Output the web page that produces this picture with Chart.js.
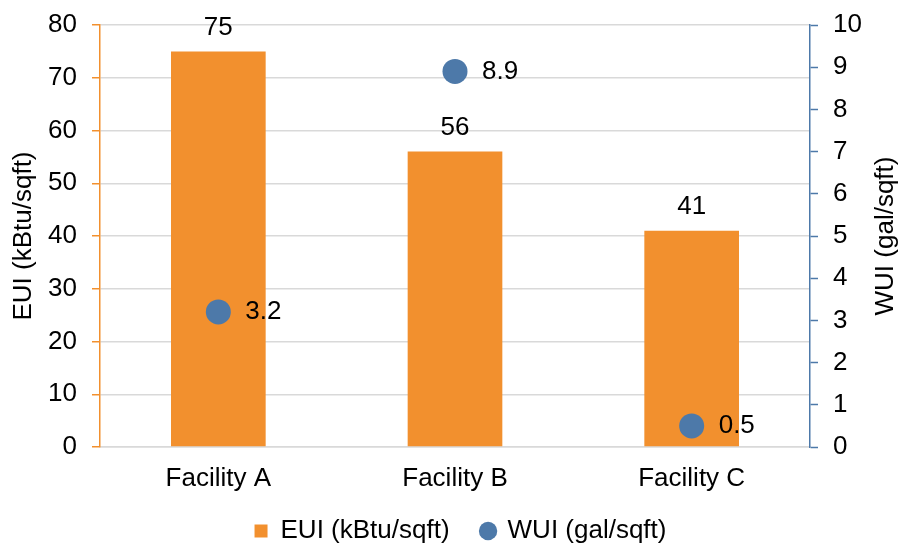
<!DOCTYPE html>
<html>
<head>
<meta charset="utf-8">
<script src="https://cdn.jsdelivr.net/npm/chart.js@4.4.1/dist/chart.umd.min.js"></script>
<style>
  html, body { margin: 0; padding: 0; background: #fff; }
  #wrap { width: 901px; height: 549px; }
</style>
</head>
<body>
<div id="wrap"><canvas id="chart"></canvas></div>
<script>
const facilities = ["Facility A", "Facility B", "Facility C"];
const euiValues = [75, 56, 41];      // kBtu/sqft
const wuiValues = [3.2, 8.9, 0.5];   // gal/sqft

const FONT = "'Liberation Sans', Arial, sans-serif";
const ORANGE = "#F2902E";
const BLUE = "#4D79A9";

// value labels over bars / beside points, plus the right axis title
// (drawn by hand so it reads bottom-to-top like the left one)
const valueLabels = {
  id: "valueLabels",
  afterLayout(chart) {
    // nudge the legend row a little right and up
    const lg = chart.legend;
    lg.left += 10; lg.right += 10;
    lg.top -= 17;
  },
  afterDatasetsDraw(chart) {
    const ctx = chart.ctx;
    ctx.save();
    ctx.font = "26px " + FONT;
    ctx.fillStyle = "#000";
    ctx.textBaseline = "middle";

    ctx.textAlign = "center";
    chart.getDatasetMeta(0).data.forEach((bar, i) => {
      ctx.fillText(String(euiValues[i]), bar.x, bar.y - 24);
    });

    ctx.textAlign = "left";
    chart.getDatasetMeta(1).data.forEach((pt, i) => {
      ctx.fillText(String(wuiValues[i]), pt.x + 27, pt.y);
    });

    const area = chart.chartArea;
    const rx = chart.scales.y1.right - 15;
    ctx.translate(rx, (area.top + area.bottom) / 2);
    ctx.rotate(-Math.PI / 2);
    ctx.textAlign = "center";
    ctx.fillText("WUI (gal/sqft)", 0, 0);
    ctx.restore();
  }
};

Chart.defaults.font.family = FONT;
Chart.defaults.font.size = 26;
Chart.defaults.color = "#000";

const noPad = s => { s.paddingTop = 0; s.paddingBottom = 0; };

const ctx = document.getElementById("chart").getContext("2d");
new Chart(ctx, {
  type: "bar",
  data: {
    labels: facilities,
    datasets: [
      {
        type: "bar",
        label: "EUI (kBtu/sqft)",
        data: euiValues,
        backgroundColor: ORANGE,
        yAxisID: "y",
        order: 1,
        pointStyle: "rect",
        categoryPercentage: 1,
        barPercentage: 0.4
      },
      {
        type: "line",
        label: "WUI (gal/sqft)",
        data: wuiValues,
        yAxisID: "y1",
        showLine: false,
        order: 0,
        pointStyle: "circle",
        pointRadius: 12.5,
        pointHoverRadius: 12.5,
        pointBackgroundColor: BLUE,
        pointBorderWidth: 0,
        backgroundColor: BLUE,
        borderColor: BLUE
      }
    ]
  },
  options: {
    responsive: true,
    maintainAspectRatio: false,
    animation: false,
    layout: { padding: { top: 25, left: 0, right: 0, bottom: 0 } },
    plugins: {
      tooltip: { enabled: false },
      legend: {
        position: "bottom",
        maxHeight: 46,
        labels: {
          usePointStyle: true,
          boxWidth: 13,
          boxHeight: 13,
          padding: 32,
          color: "#000",
          font: { size: 26 },
          sort: (a, b) => a.datasetIndex - b.datasetIndex
        }
      }
    },
    scales: {
      x: {
        afterFit: s => { s.height = 56; s.paddingLeft = 0; s.paddingRight = 0; },
        grid: { display: true, drawOnChartArea: false, drawTicks: false },
        border: { display: true, color: "#D9D9D9", width: 1.5 },
        ticks: { padding: 16, font: { size: 26 } }
      },
      y: {
        position: "left",
        min: 0,
        max: 80,
        afterFit: s => { s.width = 100; noPad(s); },
        ticks: { stepSize: 10, padding: 15, font: { size: 26 } },
        grid: { color: "#D9D9D9", lineWidth: 1.5, tickColor: ORANGE, tickLength: 8, tickWidth: 1.5 },
        border: { color: ORANGE, width: 1.5 },
        title: { display: true, text: "EUI (kBtu/sqft)", font: { size: 26 }, padding: { top: 8, bottom: 0 } }
      },
      y1: {
        position: "right",
        min: 0,
        max: 10,
        afterFit: s => { s.width = 91; noPad(s); },
        ticks: { stepSize: 1, padding: 15, font: { size: 26 } },
        grid: { drawOnChartArea: false, tickColor: BLUE, tickLength: 8, tickWidth: 1.5 },
        border: { color: BLUE, width: 1.5 }
      }
    }
  },
  plugins: [valueLabels]
});
</script>
</body>
</html>
